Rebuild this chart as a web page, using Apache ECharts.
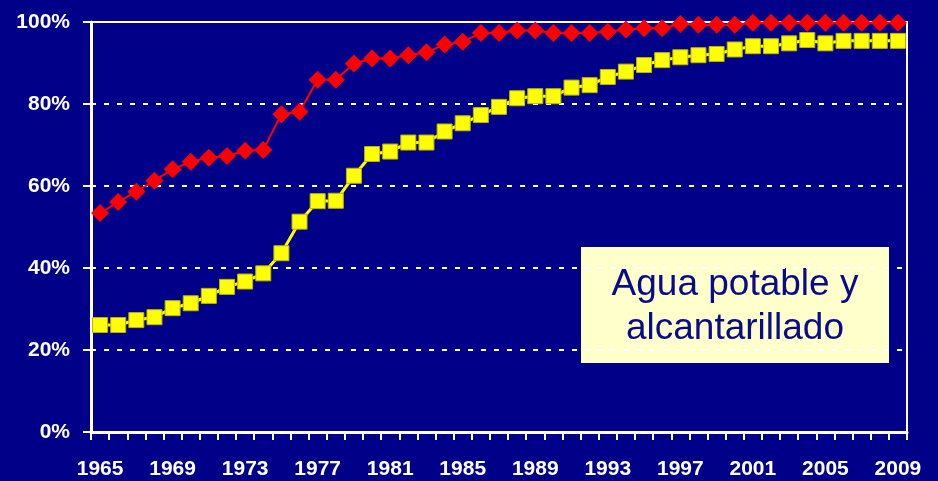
<!DOCTYPE html>
<html>
<head>
<meta charset="utf-8">
<script src="https://cdn.jsdelivr.net/npm/echarts@6/dist/echarts.min.js"></script>
<style>
  html, body { margin: 0; padding: 0; background: #000088; }
  #chart { width: 938px; height: 481px; }
</style>
</head>
<body>
<div id="chart"></div>
<script>
const years = []
for (let y = 1965; y <= 2009; y++) years.push(String(y))

// agua potable (red diamonds)
const agua = [53.4, 56.1, 58.6, 61.3, 64.1, 65.9, 66.9, 67.3, 68.6, 68.8,
  77.5, 78.1, 85.9, 85.9, 89.9, 91.1, 91.1, 91.9, 92.6, 94.5,
  95.2, 97.3, 97.3, 97.9, 97.9, 97.3, 97.3, 97.3, 97.6, 98.2,
  98.5, 98.5, 99.5, 99.3, 99.3, 99.3, 99.8, 99.8, 99.8, 99.8,
  99.8, 99.8, 99.8, 99.8, 99.8]

// alcantarillado (yellow squares)
const alcantarillado = [26.1, 26.1, 27.3, 28.0, 30.2, 31.4, 33.2, 35.4, 36.7, 38.7,
  43.6, 51.3, 56.3, 56.4, 62.5, 67.8, 68.4, 70.6, 70.6, 73.3,
  75.3, 77.3, 79.3, 81.4, 81.9, 81.9, 84.0, 84.6, 86.6, 87.9,
  89.5, 90.7, 91.4, 91.9, 92.2, 93.3, 94.1, 94.1, 94.8, 95.6,
  94.8, 95.4, 95.4, 95.4, 95.4]

const labelFont = {
    color: '#ffffff',
    fontWeight: 'bold',
    fontSize: 21,
    fontFamily: "'Liberation Sans', Arial, sans-serif"
}

const chart = echarts.init(document.getElementById('chart'))
chart.setOption({
    backgroundColor: '#000088',
    animation: false,
    grid: {
        left: 91,
        right: 31,
        top: 22,
        bottom: 49,
        show: true,
        borderColor: '#ffffff',
        borderWidth: 2,
        backgroundColor: 'transparent'
    },
    xAxis: {
        type: 'category',
        data: years,
        boundaryGap: true,
        axisLine: { lineStyle: { color: '#ffffff', width: 3 } },
        axisTick: { show: true, interval: 0, length: 8, lineStyle: { color: '#ffffff', width: 2 } },
        axisLabel: Object.assign({ interval: 3, margin: 27 }, labelFont),
        splitLine: { show: false }
    },
    yAxis: {
        type: 'value',
        min: 0,
        max: 100,
        interval: 20,
        axisLine: { show: true, lineStyle: { color: '#ffffff', width: 3 } },
        axisTick: { show: true, length: 8, lineStyle: { color: '#ffffff', width: 2 } },
        axisLabel: Object.assign({ margin: 21, formatter: '{value}%' }, labelFont),
        splitLine: { lineStyle: { color: '#ffffff', width: 2, type: [5, 8] } }
    },
    series: [
        {
            name: 'Alcantarillado',
            type: 'line',
            data: alcantarillado,
            showAllSymbol: true,
            symbol: 'rect',
            symbolSize: 15,
            lineStyle: { color: '#ffff00', width: 3 },
            itemStyle: { color: '#ffff00', borderColor: '#b8b800', borderWidth: 1 }
        },
        {
            name: 'Agua potable',
            type: 'line',
            data: agua,
            showAllSymbol: true,
            symbol: 'diamond',
            symbolSize: 18,
            lineStyle: { color: '#ff0000', width: 2 },
            itemStyle: { color: '#ff0000' }
        }
    ],
    graphic: [
        {
            type: 'group',
            left: 581,
            top: 247,
            children: [
                {
                    type: 'rect',
                    shape: { x: 0, y: 0, width: 308, height: 116 },
                    style: { fill: '#ffffcc' }
                },
                {
                    type: 'text',
                    x: 154,
                    y: 60,
                    style: {
                        text: 'Agua potable y\nalcantarillado',
                        fill: '#0a0a8c',
                        font: '37px "Liberation Sans", Arial, sans-serif',
                        align: 'center',
                        verticalAlign: 'middle',
                        lineHeight: 44
                    }
                }
            ]
        }
    ]
})
</script>
</body>
</html>
